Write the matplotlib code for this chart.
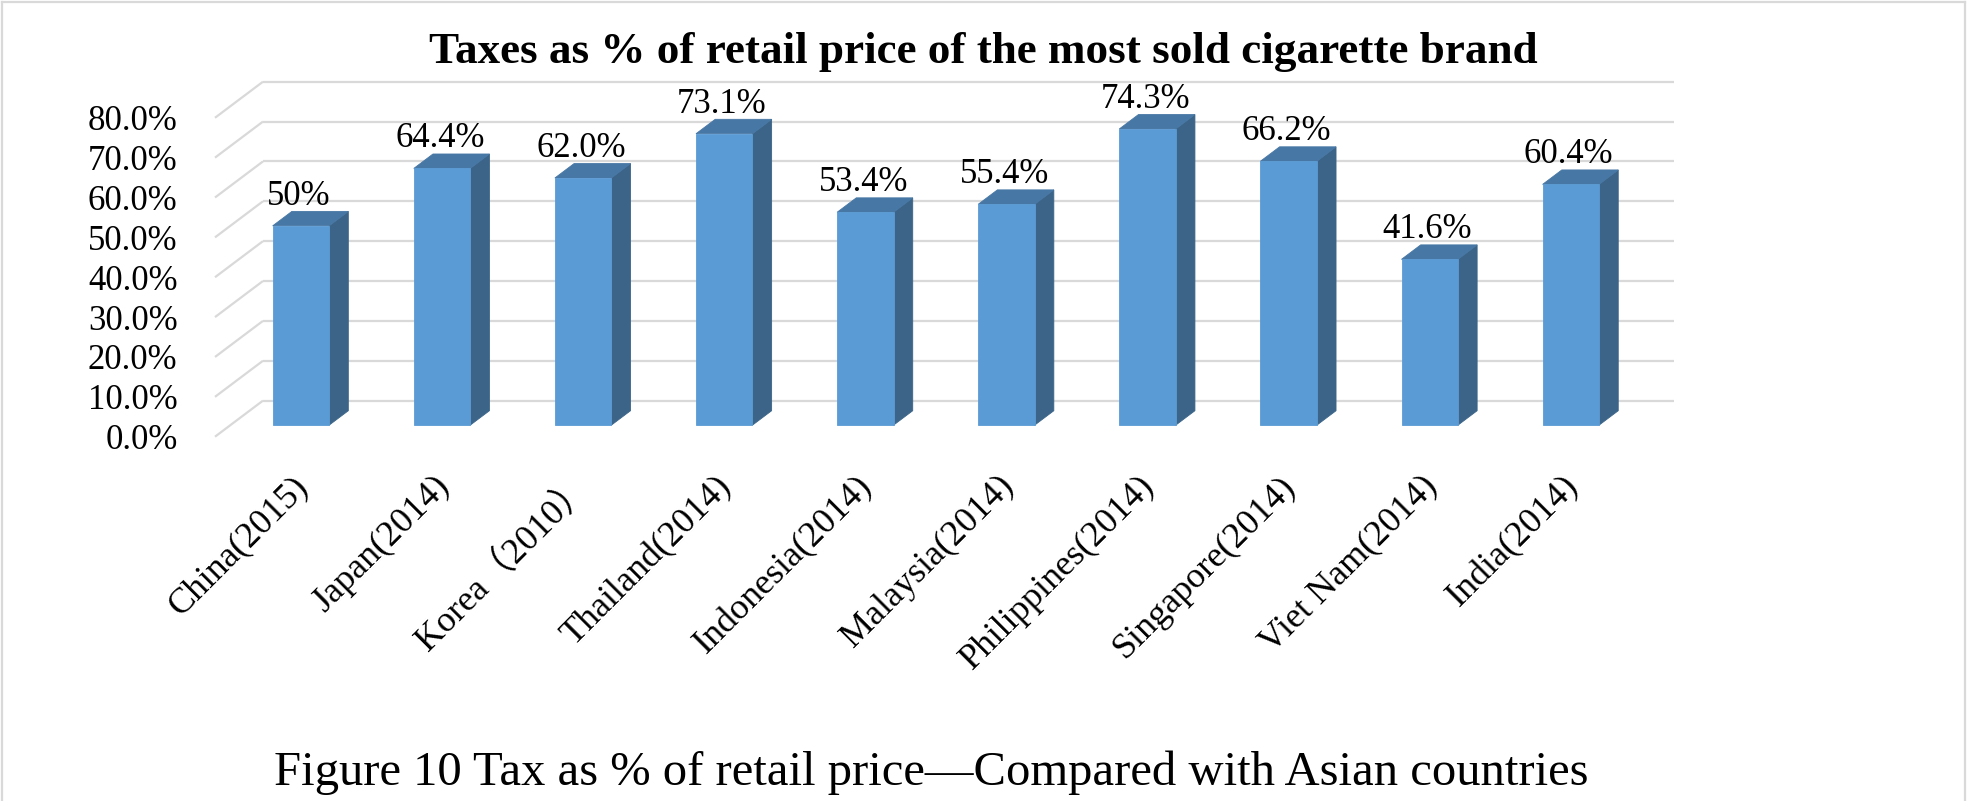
import matplotlib
matplotlib.use("Agg")
import matplotlib.pyplot as plt
from matplotlib.patches import Polygon
from matplotlib.lines import Line2D
from matplotlib.transforms import ScaledTranslation

# ---- data -------------------------------------------------------------
categories = ["China(2015)", "Japan(2014)", "Korea（2010）", "Thailand(2014)",
              "Indonesia(2014)", "Malaysia(2014)", "Philippines(2014)",
              "Singapore(2014)", "Viet Nam(2014)", "India(2014)"]
values = [50.0, 64.4, 62.0, 73.1, 53.4, 55.4, 74.3, 66.2, 41.6, 60.4]
value_labels = ["50%", "64.4%", "62.0%", "73.1%", "53.4%", "55.4%",
                "74.3%", "66.2%", "41.6%", "60.4%"]
y_ticks = [0, 10, 20, 30, 40, 50, 60, 70, 80]

title = "Taxes as % of retail price of the most sold cigarette brand"
caption = "Figure 10 Tax as % of retail price\u2014Compared with Asian countries"

# ---- style ------------------------------------------------------------
plt.rcParams["font.family"] = ["Liberation Serif", "Noto Sans CJK SC"]
FRONT = "#5B9BD5"
TOP = "#4777A5"
SIDE = "#3B6488"
GRID = "#D9D9D9"

W, H = 1967, 801
fig = plt.figure(figsize=(W / 100, H / 100), dpi=100)

# plot area (front plane bottom-left to back plane top-right), in pixels
left_px, right_px = 215, 1674
bottom_px, top_px = 436.7, 81.7
ax = fig.add_axes([left_px / W, 1 - bottom_px / H,
                   (right_px - left_px) / W, (bottom_px - top_px) / H])

n = len(categories)
ymax = y_ticks[-1]
DX, DY = 0.34, 9.05          # oblique depth vector, in data units
ax.set_xlim(0, n + DX)
ax.set_ylim(0, ymax + DY)
for s in ax.spines.values():
    s.set_visible(False)
ax.patch.set_visible(False)
ax.set_xticks([])

# back wall gridlines plus the receding left-wall strokes
for t in y_ticks:
    ax.plot([0, DX], [t, t + DY], color=GRID, lw=1.6,
            solid_capstyle="butt", clip_on=False, zorder=1)
    ax.plot([DX, n + DX], [t + DY, t + DY], color=GRID, lw=1.6,
            solid_capstyle="butt", clip_on=False, zorder=1)

# 3-D columns
bw = 0.4
zf, zb = 0.32, 0.72
lab_off = ScaledTranslation(0, 6.5 / 100, fig.dpi_scale_trans)
for i, v in enumerate(values):
    xl = i + 0.5 - bw / 2
    xr = xl + bw
    side = [(xr + zf * DX, zf * DY), (xr + zb * DX, zb * DY),
            (xr + zb * DX, v + zb * DY), (xr + zf * DX, v + zf * DY)]
    top = [(xl + zf * DX, v + zf * DY), (xr + zf * DX, v + zf * DY),
           (xr + zb * DX, v + zb * DY), (xl + zb * DX, v + zb * DY)]
    front = [(xl + zf * DX, zf * DY), (xr + zf * DX, zf * DY),
             (xr + zf * DX, v + zf * DY), (xl + zf * DX, v + zf * DY)]
    for pts, col in ((side, SIDE), (top, TOP), (front, FRONT)):
        ax.add_patch(Polygon(pts, closed=True, facecolor=col,
                             edgecolor=col, lw=0.6, zorder=3))
    ax.text(i + 0.5 + zf * DX - 0.015, v + zb * DY, value_labels[i],
            ha="center", va="baseline", fontsize=25,
            transform=ax.transData + lab_off, zorder=4)

# value axis labels on the front plane
ax.set_yticks(y_ticks)
ax.set_yticklabels([f"{t:.1f}%" for t in y_ticks])
ax.tick_params(axis="y", length=0, pad=27, labelsize=25)

# rotated category labels
cat_off = ScaledTranslation(6 / 100, -33 / 100, fig.dpi_scale_trans)
for i, c in enumerate(categories):
    ax.text(i + 0.5, 0, c, rotation=45, rotation_mode="anchor",
            ha="right", va="top", fontsize=26,
            transform=ax.transData + cat_off)

fig.text(983.5 / W, 1 - 63 / H, title, ha="center", va="baseline",
         fontsize=32.5, fontweight="bold")
fig.text(931 / W, 1 - 785 / H, caption, ha="center", va="baseline",
         fontsize=35)

# light frame around the chart
for xs, ys in (([1.5, 1.5], [0, H - 2]), ([1.5, W - 2.5], [H - 2, H - 2]),
               ([W - 2.5, W - 2.5], [H - 2, 0])):
    fig.add_artist(Line2D([x / W for x in xs], [y / H for y in ys],
                          color=GRID, lw=1.6, transform=fig.transFigure))

fig.savefig("out.png", dpi=100)
